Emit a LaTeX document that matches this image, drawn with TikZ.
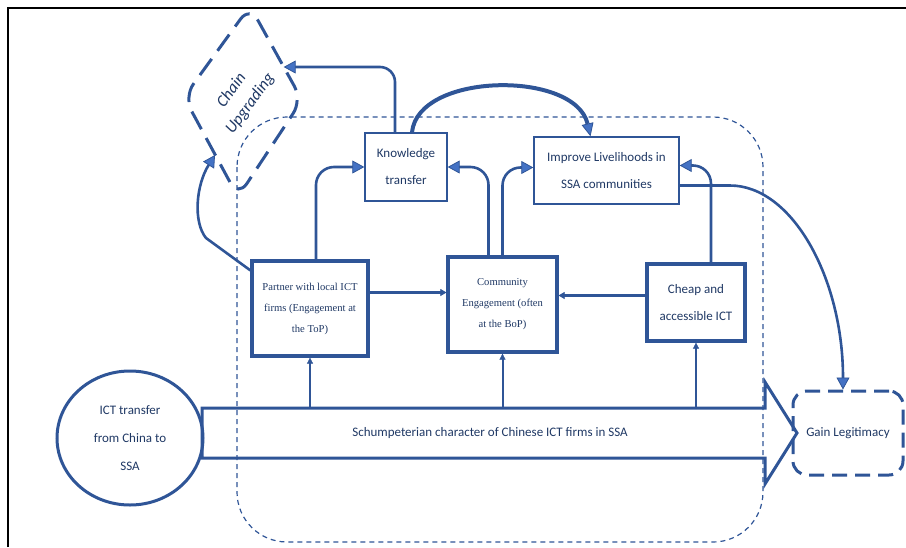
\documentclass[tikz,border=0pt]{standalone}
\usepackage{fontspec}
\setmainfont{Carlito}
\newfontfamily\serifgar{Liberation Serif}
\usetikzlibrary{arrows.meta,shapes.geometric,calc}
\definecolor{lineblue}{HTML}{2F5597}
\definecolor{fillblue}{HTML}{4472C4}
\definecolor{textblue}{HTML}{1F3864}
\begin{document}
\begin{tikzpicture}[x=1pt,y=-1pt,
  txt/.style={text=textblue, font=\fontsize{13}{27}\selectfont, align=center, inner sep=0pt},
  thinbox/.style={txt, draw=lineblue, line width=1.4pt, rectangle},
  thickbox/.style={txt, draw=lineblue, line width=3.2pt, rectangle},
  sertxt/.style={font=\serifgar\fontsize{10.6}{21}\selectfont},
  conn/.style={draw=lineblue, line width=2.6pt, line cap=round,
    -{Triangle[length=12pt,width=13pt,line width=0.8pt,fill=fillblue]}},
  bigconn/.style={draw=lineblue, line width=4pt,
    -{Triangle[length=13pt,width=12pt,line width=0.8pt,fill=fillblue]}},
  smallconn/.style={draw=lineblue, line width=2pt,
    -{Triangle[length=6pt,width=6pt,line width=0.5pt]}},
  midconn/.style={draw=lineblue, line width=3.4pt,
    -{Triangle[length=6pt,width=7pt,line width=0.5pt]}},
  frameline/.style={draw=black, line width=2.5pt},
  container/.style={draw=lineblue, line width=1.2pt, dash pattern=on 5pt off 4pt, rounded corners=50pt},
  chainshape/.style={draw=lineblue, line width=3pt, dash pattern=on 20pt off 10pt, rounded corners=16pt},
  gainbox/.style={txt, draw=lineblue, line width=3pt, dash pattern=on 15pt off 8pt, rounded corners=14pt},
  blockarrow/.style={draw=lineblue, line width=3pt, line join=miter}
]
\useasboundingbox (0,0) rectangle (906,547);

% outer frame
\draw[frameline] (8,547) -- (8,8) -- (906,8);

% dashed container
\draw[container] (237,117) rectangle (763,542);

% chain upgrading diamond
\draw[chainshape] (250,6) -- (302,100) -- (238,197) -- (184,97) -- cycle;
\node[txt, font=\itshape\fontsize{16.5}{23}\selectfont, rotate=54] (chain) at (241,97) {Chain\\Upgrading};
\coordinate (chainR) at (283.7,67);
\coordinate (chainB) at (215,155);

% block arrow
\draw[blockarrow] (202,408) -- (765,408) -- (765,382) -- (797,433) -- (765,484) -- (765,458) -- (202,458) -- cycle;
\node[txt, minimum height=50pt] (sch) at (490,433) {Schumpeterian character of Chinese ICT firms in SSA};

% nodes
\node[thinbox, minimum width=82pt, minimum height=68pt] (kt) at (406,167) {Knowledge\\transfer};
\node[thinbox, minimum width=145pt, minimum height=67pt] (imp) at (606.5,170.5) {Improve Livelihoods in\\SSA communities};
\node[thickbox, sertxt, minimum width=116pt, minimum height=95pt] (partner) at (310,308.5) {Partner with local ICT\\firms (Engagement at\\the ToP)};
\node[thickbox, sertxt, minimum width=109pt, minimum height=95pt] (comm) at (502.5,304.5) {Community\\Engagement (often\\at the BoP)};
\node[thickbox, minimum width=98pt, minimum height=77pt] (cheap) at (696,302.5) {Cheap and\\accessible ICT};
\node[txt, ellipse, draw=lineblue, line width=3pt, font=\fontsize{13}{28}\selectfont, minimum width=146pt, minimum height=134pt] (ict) at (130,438) {ICT transfer\\from China to\\SSA};
\node[gainbox, minimum width=110pt, minimum height=84pt] (gain) at (848,433) {Gain Legitimacy};

% connectors
\draw[conn, rounded corners=18pt] ([xshift=6pt]partner.north) |- (kt.west);
\draw[conn, rounded corners=18pt] ([xshift=-14pt]comm.north) |- (kt.east);
\draw[conn, rounded corners=18pt] (comm.north) |- ([yshift=3pt]imp.west);
\draw[conn, rounded corners=18pt] ([xshift=15pt]cheap.north) |- ([yshift=5pt]imp.east);
\draw[conn] ([yshift=-15pt]imp.east) -- (730,185.5) .. controls (792,185.5) and (843,278) .. ([xshift=-5pt]gain.north);
\draw[conn, rounded corners=15pt] ([xshift=-11pt]kt.north) |- (chainR);
\draw[bigconn] ([xshift=6pt]kt.north) .. controls (418,72) and (575,70) .. ([xshift=-16pt]imp.north);
\draw[conn] ([yshift=-11pt]partner.north west) -- (206,238) .. controls (193,222) and (196,185) .. (chainB);

\draw[midconn] ([yshift=16pt]partner.east) -- ([yshift=16pt]partner.east -| comm.west);
\draw[midconn] ([yshift=7pt]cheap.west) -- ([yshift=7pt]cheap.west -| comm.east);

\draw[smallconn] (partner.south |- sch.north) -- (partner.south);
\draw[smallconn] (comm.south |- sch.north) -- (comm.south);
\draw[smallconn] (cheap.south |- sch.north) -- (cheap.south);
\end{tikzpicture}
\end{document}
